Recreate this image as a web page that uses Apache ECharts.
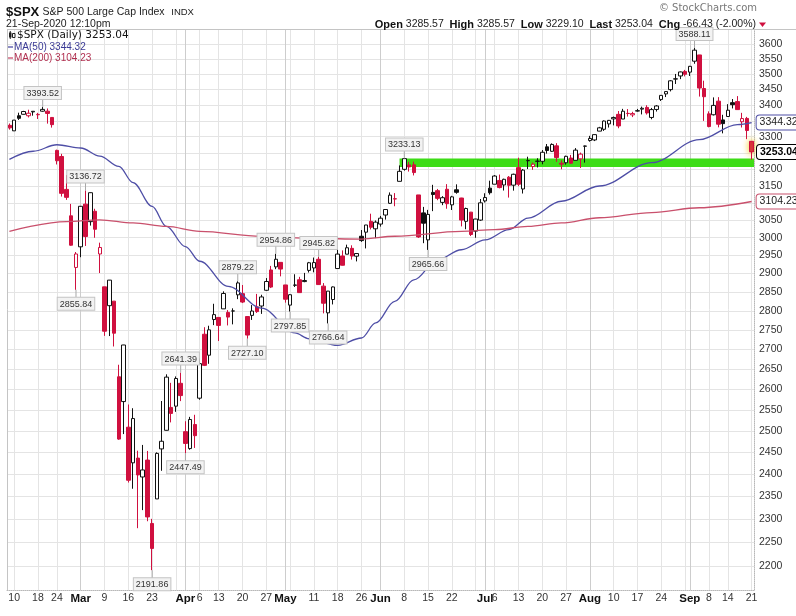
<!DOCTYPE html>
<html>
<head>
<meta charset="utf-8">
<title>$SPX</title>
<script src="https://cdn.jsdelivr.net/npm/echarts@6.0.0/dist/echarts.min.js"></script>
<style>
html,body{margin:0;padding:0;background:#fff;}
#chart{width:796px;height:616px;}
</style>
</head>
<body>
<div id="chart"></div>
<script>
// ---------------- DATA ----------------
const dates = [
'2020-02-07','2020-02-10','2020-02-11','2020-02-12','2020-02-13','2020-02-14','2020-02-18','2020-02-19','2020-02-20','2020-02-21',
'2020-02-24','2020-02-25','2020-02-26','2020-02-27','2020-02-28','2020-03-02','2020-03-03','2020-03-04','2020-03-05','2020-03-06',
'2020-03-09','2020-03-10','2020-03-11','2020-03-12','2020-03-13','2020-03-16','2020-03-17','2020-03-18','2020-03-19','2020-03-20',
'2020-03-23','2020-03-24','2020-03-25','2020-03-26','2020-03-27','2020-03-30','2020-03-31','2020-04-01','2020-04-02','2020-04-03',
'2020-04-06','2020-04-07','2020-04-08','2020-04-09','2020-04-13','2020-04-14','2020-04-15','2020-04-16','2020-04-17','2020-04-20',
'2020-04-21','2020-04-22','2020-04-23','2020-04-24','2020-04-27','2020-04-28','2020-04-29','2020-04-30','2020-05-01','2020-05-04',
'2020-05-05','2020-05-06','2020-05-07','2020-05-08','2020-05-11','2020-05-12','2020-05-13','2020-05-14','2020-05-15','2020-05-18',
'2020-05-19','2020-05-20','2020-05-21','2020-05-22','2020-05-26','2020-05-27','2020-05-28','2020-05-29','2020-06-01','2020-06-02',
'2020-06-03','2020-06-04','2020-06-05','2020-06-08','2020-06-09','2020-06-10','2020-06-11','2020-06-12','2020-06-15','2020-06-16',
'2020-06-17','2020-06-18','2020-06-19','2020-06-22','2020-06-23','2020-06-24','2020-06-25','2020-06-26','2020-06-29','2020-06-30',
'2020-07-01','2020-07-02','2020-07-06','2020-07-07','2020-07-08','2020-07-09','2020-07-10','2020-07-13','2020-07-14','2020-07-15',
'2020-07-16','2020-07-17','2020-07-20','2020-07-21','2020-07-22','2020-07-23','2020-07-24','2020-07-27','2020-07-28','2020-07-29',
'2020-07-30','2020-07-31','2020-08-03','2020-08-04','2020-08-05','2020-08-06','2020-08-07','2020-08-10','2020-08-11','2020-08-12',
'2020-08-13','2020-08-14','2020-08-17','2020-08-18','2020-08-19','2020-08-20','2020-08-21','2020-08-24','2020-08-25','2020-08-26',
'2020-08-27','2020-08-28','2020-08-31','2020-09-01','2020-09-02','2020-09-03','2020-09-04','2020-09-08','2020-09-09','2020-09-10',
'2020-09-11','2020-09-14','2020-09-15','2020-09-16','2020-09-17','2020-09-18','2020-09-21'
];
const opens = [
3335.54,3318.28,3365.87,3370.50,3365.90,3378.08,3369.04,3380.39,3380.45,3360.50,
3257.61,3238.94,3139.90,3062.54,2916.90,2974.28,3096.46,3045.75,3075.70,2954.20,
2863.89,2813.48,2825.60,2630.86,2569.99,2508.59,2425.66,2436.50,2393.48,2431.94,
2290.71,2344.44,2457.77,2501.29,2555.87,2558.98,2614.69,2498.08,2458.54,2514.92,
2578.28,2738.65,2685.00,2776.99,2782.46,2805.10,2795.64,2799.34,2842.43,2845.62,
2784.81,2787.89,2810.42,2812.64,2854.65,2909.96,2918.46,2930.91,2869.09,2815.01,
2868.88,2883.14,2878.26,2908.83,2915.46,2939.50,2865.86,2794.54,2829.95,2913.86,
2948.59,2953.63,2969.95,2948.05,3004.08,3015.65,3046.61,3025.17,3038.78,3064.78,
3098.90,3111.56,3163.84,3199.92,3213.32,3213.42,3123.53,3071.04,2993.76,3131.00,
3136.13,3101.64,3140.29,3094.42,3138.70,3114.40,3046.60,3073.20,3018.59,3050.20,
3105.92,3143.64,3155.29,3166.44,3153.07,3176.17,3152.47,3205.08,3141.11,3225.98,
3208.36,3224.21,3224.29,3268.52,3254.86,3271.64,3218.58,3219.84,3234.27,3227.22,
3231.76,3270.45,3288.26,3289.92,3317.37,3323.17,3340.05,3356.04,3370.34,3355.46,
3372.95,3368.66,3380.86,3387.04,3392.51,3360.48,3386.01,3418.09,3435.95,3449.97,
3485.14,3494.69,3509.73,3507.44,3543.76,3564.74,3453.60,3371.88,3369.02,3412.56,
3352.70,3363.56,3407.73,3411.23,3346.86,3357.38,3285.57
];
const highs = [
3341.42,3352.26,3375.63,3381.47,3385.09,3380.69,3375.01,3393.52,3389.15,3360.76,
3259.81,3246.99,3182.51,3097.07,2959.72,3090.96,3136.72,3130.97,3083.04,2985.93,
2863.89,2882.59,2825.60,2660.95,2711.33,2562.98,2553.93,2453.57,2466.97,2453.01,
2300.73,2449.71,2571.42,2637.01,2615.91,2631.80,2641.39,2522.75,2533.22,2538.18,
2676.85,2756.89,2760.75,2818.57,2782.46,2851.85,2801.88,2806.51,2879.22,2868.98,
2785.54,2815.10,2844.90,2842.71,2887.72,2921.15,2954.86,2930.91,2869.09,2844.24,
2898.23,2891.11,2901.92,2932.16,2944.25,2945.82,2874.14,2852.80,2865.01,2968.09,
2964.21,2980.29,2978.50,2956.76,3021.72,3036.25,3068.67,3049.17,3062.18,3081.07,
3130.94,3128.91,3211.72,3233.13,3222.71,3223.27,3123.53,3088.42,3079.76,3153.45,
3141.16,3120.00,3155.53,3120.92,3154.90,3115.01,3086.25,3073.73,3053.89,3111.51,
3128.44,3165.81,3182.59,3184.15,3171.80,3179.78,3186.82,3235.32,3200.95,3238.28,
3220.39,3233.52,3258.61,3277.29,3279.32,3279.99,3227.26,3241.43,3243.72,3264.74,
3250.92,3272.17,3302.73,3306.84,3330.77,3351.03,3352.54,3363.29,3381.01,3387.89,
3387.24,3378.51,3387.59,3395.06,3399.54,3390.80,3399.96,3432.09,3444.21,3481.07,
3501.38,3509.23,3514.77,3528.03,3588.11,3564.85,3479.15,3379.97,3424.77,3425.55,
3368.95,3402.93,3419.48,3428.92,3375.17,3362.27,3285.57
];
const lows = [
3322.12,3317.77,3352.72,3369.72,3360.52,3366.15,3355.61,3378.83,3341.02,3328.45,
3214.65,3118.77,3108.99,2977.39,2855.84,2945.19,2976.63,3034.38,2999.83,2901.54,
2734.43,2734.00,2707.22,2478.86,2492.37,2380.94,2367.04,2280.52,2319.78,2295.56,
2191.86,2344.44,2407.53,2500.72,2520.02,2545.28,2571.15,2447.49,2455.79,2459.96,
2574.57,2657.67,2663.30,2762.36,2721.17,2805.10,2761.54,2764.32,2830.88,2820.43,
2727.10,2775.95,2794.26,2791.76,2852.89,2860.71,2912.16,2892.47,2821.61,2797.85,
2863.55,2847.65,2876.48,2902.88,2903.44,2869.59,2793.15,2766.64,2816.78,2913.86,
2922.35,2953.63,2938.57,2933.59,2988.17,2969.75,3023.40,2998.61,3031.54,3051.64,
3097.08,3090.41,3163.84,3196.00,3193.11,3181.49,2999.49,2984.47,2965.66,3076.06,
3108.03,3093.51,3083.11,3079.39,3127.12,3032.13,3024.01,3004.63,2999.74,3047.83,
3101.17,3124.52,3155.29,3142.93,3136.53,3115.70,3136.22,3149.43,3127.66,3200.76,
3198.59,3205.65,3215.16,3247.77,3253.10,3222.66,3200.05,3214.25,3216.17,3227.22,
3204.13,3220.26,3284.53,3286.37,3317.37,3318.14,3328.72,3335.44,3326.44,3355.46,
3363.35,3361.64,3379.22,3370.15,3369.66,3354.69,3379.31,3413.13,3425.84,3444.15,
3468.35,3484.32,3493.25,3494.60,3535.23,3427.41,3349.63,3329.27,3366.84,3329.25,
3310.47,3363.56,3389.25,3384.45,3328.82,3292.40,3229.10
];
const closes = [
3327.71,3352.09,3357.75,3379.45,3373.94,3380.16,3370.29,3386.15,3373.23,3337.75,
3225.89,3128.21,3116.39,2978.76,2954.22,3090.23,3003.37,3130.12,3023.94,2972.37,
2746.56,2882.23,2741.38,2480.64,2711.02,2386.13,2529.19,2398.10,2409.39,2304.92,
2237.40,2447.33,2475.56,2630.07,2541.47,2626.65,2584.59,2470.50,2526.90,2488.65,
2663.68,2659.41,2749.98,2789.82,2761.63,2846.06,2783.36,2799.55,2874.56,2823.16,
2736.56,2799.31,2797.80,2836.74,2878.48,2863.39,2939.51,2912.43,2830.71,2842.74,
2868.44,2848.42,2881.19,2929.80,2930.32,2870.12,2820.00,2852.50,2863.70,2953.91,
2922.94,2971.61,2948.51,2955.45,2991.77,3036.13,3029.73,3044.31,3055.73,3080.82,
3122.87,3112.35,3193.93,3232.39,3207.18,3190.14,3002.10,3041.31,3066.59,3124.74,
3113.49,3115.34,3097.74,3117.86,3131.29,3050.33,3083.76,3009.05,3053.24,3100.29,
3115.86,3130.01,3179.72,3145.32,3169.94,3152.05,3185.04,3155.22,3197.52,3226.56,
3215.57,3224.73,3251.84,3257.30,3276.02,3235.66,3215.63,3239.41,3218.44,3258.44,
3246.22,3271.12,3294.61,3306.51,3327.77,3349.16,3351.28,3360.47,3333.69,3380.35,
3373.43,3372.85,3381.99,3389.78,3374.85,3385.51,3397.16,3431.28,3443.62,3478.73,
3484.55,3508.01,3500.31,3526.65,3580.84,3455.06,3426.96,3331.84,3398.96,3339.19,
3340.97,3383.54,3401.20,3385.49,3357.01,3319.47,3253.04
];
// moving averages
const ma50Points = [
['2020-02-07',3230],['2020-02-14',3255],['2020-02-24',3275],['2020-03-02',3265],['2020-03-06',3240],
['2020-03-12',3209],['2020-03-17',3160],['2020-03-23',3090],['2020-03-26',3032],['2020-04-01',2975],
['2020-04-06',2934],['2020-04-15',2865],['2020-04-24',2807],['2020-05-05',2742],['2020-05-08',2727],
['2020-05-18',2710],['2020-05-26',2729],['2020-05-29',2768],['2020-06-04',2825],['2020-06-10',2883],
['2020-06-17',2938],['2020-06-24',2966],['2020-07-01',2994],['2020-07-09',3023],['2020-07-15',3056],
['2020-07-24',3105],['2020-08-05',3150],['2020-08-20',3220],['2020-09-03',3291],['2020-09-16',3338],
['2020-09-21',3344.32]
];
const ma200Points = [
['2020-02-07',3018],['2020-02-26',3046],['2020-03-06',3051],['2020-03-17',3042],['2020-03-26',3032],
['2020-04-06',3018],['2020-04-24',3004],['2020-05-11',2998],['2020-05-26',2996],['2020-06-04',3004],
['2020-06-24',3018],['2020-07-06',3023],['2020-07-15',3032],['2020-07-24',3042],['2020-08-05',3057],
['2020-08-20',3072],['2020-09-03',3086],['2020-09-21',3104.23]
];
// annotated highs / lows
const annotationDates = ['2020-02-19','2020-03-03','2020-02-28','2020-03-23','2020-03-31','2020-04-01','2020-04-17','2020-04-21','2020-04-29','2020-05-04','2020-05-12','2020-05-14','2020-06-08','2020-06-15','2020-09-02'];
const annotationValues = [3393.52,3136.72,2855.84,2191.86,2641.39,2447.49,2879.22,2727.10,2954.86,2797.85,2945.82,2766.64,3233.13,2965.66,3588.11];
// green support band
const supportBandStart = '2020-06-05';
const supportBand = [3207, 3233];
// axis ticks
const xTickDates = ['2020-02-10','2020-02-18','2020-02-24','2020-03-02','2020-03-09','2020-03-16','2020-03-23','2020-04-01','2020-04-06','2020-04-13','2020-04-20','2020-04-27','2020-05-01','2020-05-11','2020-05-18','2020-05-26','2020-06-01','2020-06-08','2020-06-15','2020-06-22','2020-07-01','2020-07-06','2020-07-13','2020-07-20','2020-07-27','2020-08-03','2020-08-10','2020-08-17','2020-08-24','2020-09-01','2020-09-08','2020-09-14','2020-09-21'];
const yTicks = [2200,2250,2300,2350,2400,2450,2500,2550,2600,2650,2700,2750,2800,2850,2900,2950,3000,3050,3100,3150,3200,3250,3300,3350,3400,3450,3500,3550,3600];
const yRange = [2151.3, 3653.1];
const titleSymbol = '$SPX', titleName = 'S&P 500 Large Cap Index', titleExch = 'INDX';
const stampText = '21-Sep-2020 12:10pm';

// ---------------- CHART ----------------
const FONT = "'Liberation Sans', Arial, sans-serif";
const RED = '#d0103f', BLACK = '#111111';
const MA50C = '#4e4ea6', MA200C = '#c9506c';
const monthNames = ['Jan','Feb','Mar','Apr','May','Jun','Jul','Aug','Sep','Oct','Nov','Dec'];
const last = dates.length - 1;
const dow = d => new Date(d + 'T00:00:00Z').getUTCDay();
const isMonthStart = i => i > 0 && dates[i].slice(5, 7) !== dates[i - 1].slice(5, 7);
const isWeekStart = i => i > 0 && dow(dates[i]) <= dow(dates[i - 1]);
const tickSet = new Set(xTickDates);

const candleData = dates.map((d, i) => {
  const o = opens[i], c = closes[i];
  const prev = i > 0 ? closes[i - 1] : o;
  const col = c < prev ? RED : BLACK;
  const fill = c >= o ? '#ffffff' : col;
  const st = {color: fill, color0: fill, borderColor: col, borderColor0: col, borderColorDoji: col};
  if (i === last) { st.shadowColor = '#f4cc1c'; st.shadowBlur = 6; }
  return {value: [o, c, lows[i], highs[i]], itemStyle: st};
});

const annoData = annotationDates.map((d, k) => {
  const i = dates.indexOf(d);
  const v = annotationValues[k];
  const isHigh = Math.abs(v - highs[i]) <= Math.abs(v - lows[i]);
  return {coord: [d, v], value: v, symbolOffset: [0, isHigh ? -4 : 4],
          label: {position: isHigh ? 'top' : 'bottom'}};
});

const lastClose = closes[last], prevClose = closes[last - 1];
const chg = lastClose - prevClose, pct = chg / prevClose * 100;
const f2 = v => v.toFixed(2);

const tagLabel = (color, bold) => ({
  show: true, color: '#222', fontSize: 10.5, fontFamily: FONT, fontWeight: bold ? 'bold' : 'normal',
  backgroundColor: '#fff', borderColor: color, borderWidth: 1, borderRadius: 3, padding: [2, 3, 1, 3]
});

const option = {
  animation: false,
  backgroundColor: '#ffffff',
  textStyle: {fontFamily: FONT},
  grid: {left: 7, right: 42, top: 29, bottom: 26, show: false, outerBoundsMode: 'none'},
  xAxis: [{
    type: 'category', data: dates, boundaryGap: true,
    axisLine: {show: true, lineStyle: {color: '#b8b8b8', type: 'dotted'}},
    axisTick: {show: false},
    axisLabel: {
      interval: (i, v) => tickSet.has(v), color: '#333', fontSize: 10.5, margin: 3, fontFamily: FONT,
      formatter: (v, i) => isMonthStart(i) ? '{m|' + monthNames[+v.slice(5, 7) - 1] + '}' : String(+v.slice(8, 10)),
      rich: {m: {fontWeight: 'bold', fontSize: 11.5, color: '#111', fontFamily: FONT}}
    },
    splitLine: {show: true, interval: (i) => isWeekStart(i), alignWithLabel: true, lineStyle: {color: '#e4e4e4', width: 1}}
  }, {
    type: 'category', data: dates, boundaryGap: true, position: 'top',
    axisLine: {show: false}, axisTick: {show: false}, axisLabel: {show: false},
    splitLine: {show: true, interval: (i) => isMonthStart(i), alignWithLabel: true, lineStyle: {color: '#cdcdcd', width: 1}}
  }],
  yAxis: {
    type: 'log', logBase: 10, position: 'right', min: yRange[0], max: yRange[1],
    axisLine: {show: true, lineStyle: {color: '#b8b8b8', type: 'dotted'}},
    axisTick: {show: false, customValues: yTicks},
    axisLabel: {customValues: yTicks, color: '#333', fontSize: 10.5, margin: 5, fontFamily: FONT, formatter: v => String(Math.round(v))},
    splitLine: {show: true, lineStyle: {color: '#e4e4e4', width: 1}}
  },
  series: [{
    name: 'band', type: 'line', data: [], xAxisIndex: 0, z: 1, silent: true,
    markArea: {silent: true, itemStyle: {color: '#3ddc17', opacity: 1},
      data: [[{xAxis: supportBandStart, yAxis: supportBand[1]}, {yAxis: supportBand[0]}]]}
  }, {
    name: '$SPX', type: 'candlestick', xAxisIndex: 0, z: 3, barWidth: 4,
    itemStyle: {borderWidth: 1},
    data: candleData,
    markPoint: {
      silent: true, symbol: 'rect', symbolSize: [1, 8], itemStyle: {color: '#a8a8a8'},
      label: {show: true, formatter: p => f2(p.value), fontSize: 9, color: '#333', fontFamily: FONT,
              backgroundColor: '#f2f2f2', borderColor: '#c4c4c4', borderWidth: 1, padding: [2, 2, 1, 2], distance: 0},
      data: annoData
    },
    markLine: {
      silent: true, symbol: 'none', lineStyle: {color: 'rgba(0,0,0,0)', width: 0},
      label: Object.assign(tagLabel('#000', true), {position: 'end', distance: 3, formatter: f2(lastClose), color: '#000'}),
      data: [{yAxis: lastClose}]
    }
  }, {
    name: 'MA(50)', type: 'line', xAxisIndex: 0, z: 4, data: ma50Points, symbol: 'none',
    smooth: 0.35, smoothMonotone: 'x', lineStyle: {color: MA50C, width: 1.3}, itemStyle: {color: MA50C},
    endLabel: Object.assign(tagLabel(MA50C, false), {distance: 5, formatter: p => f2(p.value[1])})
  }, {
    name: 'MA(200)', type: 'line', xAxisIndex: 0, z: 4, data: ma200Points, symbol: 'none',
    smooth: 0.35, smoothMonotone: 'x', lineStyle: {color: MA200C, width: 1.3}, itemStyle: {color: MA200C},
    endLabel: Object.assign(tagLabel(MA200C, false), {distance: 5, formatter: p => f2(p.value[1])})
  }],
  graphic: [
    {type: 'line', shape: {x1: 7, y1: 29.5, x2: 796, y2: 29.5}, style: {stroke: '#c4c4c4', lineWidth: 1}, z: 5},
    {type: 'line', shape: {x1: 7.5, y1: 29, x2: 7.5, y2: 590}, style: {stroke: '#c4c4c4', lineWidth: 1}, z: 5},
    {type: 'text', x: 6, y: 12, z: 10, style: {
      text: '{a|' + titleSymbol + '} {b|' + titleName + '}  {c|' + titleExch + '}', verticalAlign: 'middle', align: 'left',
      rich: {a: {fontSize: 13, fontWeight: 'bold', fontFamily: FONT, fill: '#111'},
             b: {fontSize: 10.5, fontFamily: FONT, fill: '#222'},
             c: {fontSize: 9.5, fontFamily: FONT, fill: '#222'}}}},
    {type: 'text', x: 6, y: 24.5, z: 10, style: {text: stampText, fontSize: 10.5, fontFamily: FONT, fill: '#222', verticalAlign: 'middle', align: 'left'}},
    {type: 'text', x: 757, y: 8, z: 10, style: {text: '\u00A9 StockCharts.com', fontSize: 10, fontFamily: "'DejaVu Sans', sans-serif", fill: '#777', verticalAlign: 'middle', align: 'right'}},
    {type: 'text', x: 756, y: 24.5, z: 10, style: {
      text: '{b|Open} ' + f2(opens[last]) + '  {b|High} ' + f2(highs[last]) + '  {b|Low} ' + f2(lows[last]) +
            '  {b|Last} ' + f2(lastClose) + '  {b|Chg} ' + f2(chg) + ' (' + f2(pct) + '%)',
      fontSize: 10.5, fontFamily: FONT, fill: '#222', verticalAlign: 'middle', align: 'right',
      rich: {b: {fontSize: 11, fontWeight: 'bold', fontFamily: FONT, fill: '#111'}}}},
    {type: 'polygon', z: 10, shape: {points: [[759, 22.5], [766, 22.5], [762.5, 27]]}, style: {fill: RED}},
    // candle icon + legend
    {type: 'rect', z: 10, shape: {x: 9, y: 32.5, width: 2.5, height: 5}, style: {fill: '#222'}},
    {type: 'line', z: 10, shape: {x1: 10.25, y1: 31, x2: 10.25, y2: 39}, style: {stroke: '#222', lineWidth: 1}},
    {type: 'rect', z: 10, shape: {x: 12.5, y: 33.5, width: 2.5, height: 4}, style: {fill: '#fff', stroke: '#222', lineWidth: 1}},
    {type: 'text', x: 17, y: 35.5, z: 10, style: {text: titleSymbol + ' (Daily) ' + f2(lastClose), fontSize: 10.5, fontFamily: "'DejaVu Sans', sans-serif", fill: '#111', verticalAlign: 'middle', align: 'left'}},
    {type: 'line', z: 10, shape: {x1: 8, y1: 47, x2: 13, y2: 47}, style: {stroke: MA50C, lineWidth: 1.3}},
    {type: 'text', x: 14, y: 47, z: 10, style: {text: 'MA(50) ' + f2(ma50Points[ma50Points.length - 1][1]), fontSize: 10, fontFamily: FONT, fill: '#3a3a95', verticalAlign: 'middle', align: 'left'}},
    {type: 'line', z: 10, shape: {x1: 8, y1: 58, x2: 13, y2: 58}, style: {stroke: MA200C, lineWidth: 1.3}},
    {type: 'text', x: 14, y: 58, z: 10, style: {text: 'MA(200) ' + f2(ma200Points[ma200Points.length - 1][1]), fontSize: 10, fontFamily: FONT, fill: '#b03050', verticalAlign: 'middle', align: 'left'}}
  ]
};

const chart = echarts.init(document.getElementById('chart'), null, {renderer: 'canvas'});
chart.setOption(option);
</script>
</body>
</html>
